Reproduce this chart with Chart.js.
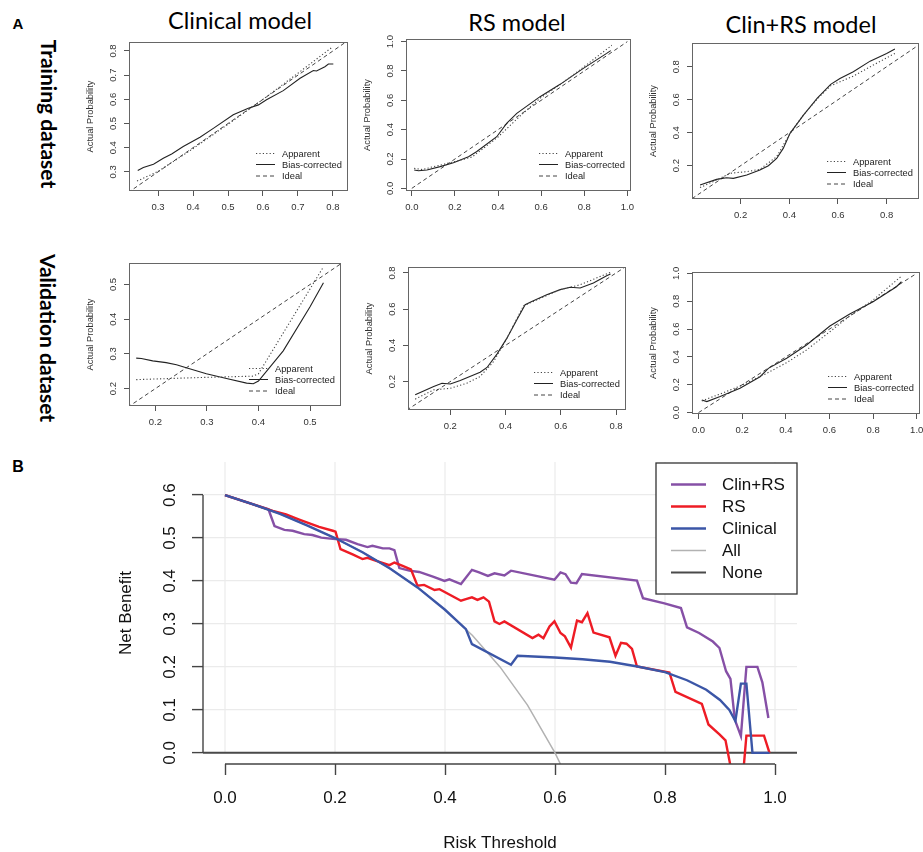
<!DOCTYPE html>
<html>
<head>
<meta charset="utf-8">
<script src="https://cdn.jsdelivr.net/npm/chart.js@4.4.1/dist/chart.umd.min.js"></script>
<style>
html, body { margin: 0; padding: 0; background: #fff; overflow: hidden; }
#page { position: relative; width: 923px; height: 852px; }
canvas { position: absolute; }
.lbl { position: absolute; white-space: nowrap; line-height: 1; transform: translate(-50%, -50%); color: #000; }
.col { font-family: Lato, sans-serif; font-size: 23.5px; }
.row { font-family: Lato, sans-serif; font-weight: bold; font-size: 21px; transform: translate(-50%, -50%) rotate(90deg); }
.tag { font-family: 'Liberation Sans', Arial, sans-serif; font-weight: bold; }
</style>
</head>
<body>
<div id="page">
  <div class="lbl tag" style="left:18px;top:23px;font-size:15px">A</div>
  <div class="lbl tag" style="left:18px;top:467px;font-size:16px">B</div>

  <div class="lbl col" style="left:240px;top:21px">Clinical model</div>
  <div class="lbl col" style="left:517px;top:23px">RS model</div>
  <div class="lbl col" style="left:801px;top:25px">Clin+RS model</div>

  <div class="lbl row" style="left:49px;top:114px">Training dataset</div>
  <div class="lbl row" style="left:48px;top:338px">Validation dataset</div>

  <canvas id="p1"></canvas>
  <canvas id="p2"></canvas>
  <canvas id="p3"></canvas>
  <canvas id="p4"></canvas>
  <canvas id="p5"></canvas>
  <canvas id="p6"></canvas>
  <canvas id="dca"></canvas>
</div>

<script>
// ---- calibration curves (panel A), points as [predicted, actual] ----
const idealLine = [[0, 0], [1, 1]];

const clinTrainApparent = [[0.24,0.262],[0.3,0.302],[0.4,0.396],[0.5,0.497],[0.6,0.600],[0.7,0.708],[0.8,0.818]];
const clinTrainBiasCorr = [[0.242,0.306],[0.258,0.318],[0.287,0.332],[0.315,0.356],[0.339,0.374],[0.372,0.405],[0.42,0.443],[0.458,0.480],[0.515,0.536],[0.558,0.563],[0.587,0.577],[0.61,0.598],[0.658,0.636],[0.706,0.687],[0.744,0.719],[0.753,0.717],[0.777,0.735],[0.787,0.746],[0.801,0.746]];

const rsTrainApparent = [[0.011,0.136],[0.05,0.128],[0.1,0.148],[0.2,0.182],[0.28,0.214],[0.4,0.35],[0.5,0.49],[0.6,0.62],[0.7,0.72],[0.8,0.83],[0.928,0.975]];
const rsTrainBiasCorr = [[0.011,0.125],[0.031,0.12],[0.07,0.125],[0.131,0.148],[0.193,0.175],[0.263,0.216],[0.30,0.25],[0.394,0.352],[0.44,0.443],[0.487,0.511],[0.595,0.625],[0.688,0.709],[0.796,0.818],[0.904,0.92],[0.923,0.939]];

const crTrainApparent = [[0.033,0.067],[0.1,0.113],[0.156,0.154],[0.225,0.164],[0.279,0.178],[0.348,0.255],[0.403,0.396],[0.458,0.507],[0.515,0.605],[0.57,0.685],[0.663,0.743],[0.745,0.81],[0.834,0.881]];
const crTrainBiasCorr = [[0.033,0.083],[0.101,0.117],[0.142,0.127],[0.17,0.123],[0.225,0.143],[0.279,0.174],[0.314,0.2],[0.348,0.244],[0.375,0.305],[0.403,0.396],[0.458,0.507],[0.515,0.61],[0.57,0.693],[0.608,0.729],[0.663,0.77],[0.732,0.834],[0.8,0.881],[0.834,0.907]];

const clinValApparent = [[0.163,0.226],[0.286,0.232],[0.39,0.236],[0.40,0.243],[0.526,0.551]];
const clinValBiasCorr = [[0.163,0.288],[0.173,0.287],[0.195,0.28],[0.221,0.275],[0.241,0.269],[0.26,0.26],[0.299,0.243],[0.338,0.229],[0.377,0.216],[0.39,0.214],[0.40,0.222],[0.448,0.309],[0.5,0.436],[0.526,0.505]];

const rsValApparent = [[0.073,0.103],[0.14,0.154],[0.2,0.163],[0.26,0.191],[0.308,0.228],[0.357,0.311],[0.405,0.44],[0.465,0.619],[0.501,0.643],[0.598,0.708],[0.67,0.735],[0.78,0.804]];
const rsValBiasCorr = [[0.073,0.127],[0.14,0.173],[0.17,0.191],[0.2,0.187],[0.236,0.206],[0.308,0.252],[0.333,0.278],[0.369,0.352],[0.405,0.44],[0.441,0.542],[0.471,0.625],[0.495,0.643],[0.549,0.68],[0.598,0.708],[0.634,0.721],[0.67,0.717],[0.718,0.745],[0.766,0.785],[0.78,0.794]];

const crValApparent = [[0.015,0.084],[0.099,0.134],[0.19,0.191],[0.312,0.282],[0.404,0.359],[0.495,0.45],[0.602,0.581],[0.693,0.694],[0.8,0.809],[0.93,0.98]];
const crValBiasCorr = [[0.015,0.091],[0.038,0.079],[0.099,0.115],[0.19,0.175],[0.282,0.258],[0.32,0.318],[0.404,0.39],[0.495,0.486],[0.602,0.622],[0.693,0.708],[0.8,0.797],[0.907,0.904],[0.93,0.94]];

// tick labels of the small panels
const ticksTenth36 = [0.3, 0.4, 0.5, 0.6, 0.7, 0.8];
const ticksFifth = [0, 0.2, 0.4, 0.6, 0.8, 1.0];
const ticksFifth28 = [0.2, 0.4, 0.6, 0.8];
const ticksTenth25 = [0.2, 0.3, 0.4, 0.5];
const calLegend = ['Apparent', 'Bias-corrected', 'Ideal'];

// ---- decision curves (panel B), points as [threshold, net benefit] ----
const dcaNames = ['Clin+RS', 'RS', 'Clinical', 'All', 'None'];
const dcaClinRS = [[0,0.6],[0.05,0.579],[0.079,0.567],[0.09,0.528],[0.108,0.519],[0.123,0.517],[0.144,0.509],[0.159,0.507],[0.175,0.501],[0.196,0.498],[0.22,0.496],[0.241,0.486],[0.259,0.479],[0.268,0.482],[0.287,0.476],[0.299,0.476],[0.308,0.472],[0.317,0.43],[0.335,0.424],[0.353,0.421],[0.378,0.41],[0.399,0.4],[0.408,0.404],[0.429,0.393],[0.449,0.426],[0.462,0.42],[0.478,0.412],[0.49,0.418],[0.508,0.413],[0.52,0.424],[0.599,0.403],[0.61,0.42],[0.619,0.416],[0.629,0.396],[0.639,0.395],[0.649,0.416],[0.749,0.401],[0.76,0.36],[0.799,0.348],[0.829,0.337],[0.84,0.292],[0.862,0.279],[0.887,0.259],[0.899,0.244],[0.911,0.19],[0.919,0.172],[0.927,0.077],[0.938,0.039],[0.948,0.2],[0.968,0.2],[0.977,0.164],[0.988,0.081]];
const dcaRS = [[0,0.6],[0.05,0.579],[0.087,0.563],[0.111,0.555],[0.135,0.543],[0.171,0.526],[0.196,0.517],[0.201,0.515],[0.21,0.474],[0.232,0.462],[0.25,0.451],[0.259,0.454],[0.275,0.447],[0.299,0.437],[0.308,0.443],[0.323,0.435],[0.338,0.427],[0.35,0.389],[0.362,0.391],[0.381,0.379],[0.39,0.381],[0.429,0.354],[0.438,0.358],[0.449,0.362],[0.459,0.356],[0.47,0.362],[0.48,0.352],[0.49,0.306],[0.499,0.300],[0.508,0.306],[0.559,0.267],[0.57,0.275],[0.579,0.267],[0.59,0.294],[0.599,0.306],[0.61,0.279],[0.618,0.271],[0.629,0.245],[0.64,0.308],[0.649,0.304],[0.659,0.325],[0.67,0.280],[0.699,0.269],[0.71,0.226],[0.72,0.256],[0.73,0.254],[0.74,0.242],[0.749,0.201],[0.808,0.187],[0.819,0.142],[0.867,0.114],[0.879,0.066],[0.899,0.043],[0.91,0.029],[0.922,-0.05],[0.942,-0.05],[0.948,0.04],[0.98,0.04],[0.99,0.0]];
const dcaClinical = [[0,0.6],[0.05,0.579],[0.1,0.556],[0.15,0.529],[0.2,0.5],[0.25,0.467],[0.3,0.429],[0.35,0.385],[0.4,0.333],[0.438,0.288],[0.449,0.253],[0.52,0.205],[0.532,0.226],[0.6,0.222],[0.65,0.218],[0.7,0.212],[0.75,0.201],[0.8,0.188],[0.84,0.169],[0.875,0.147],[0.9,0.123],[0.917,0.100],[0.928,0.074],[0.938,0.161],[0.948,0.161],[0.959,0.0],[0.99,0.0]];
const dcaAll = [[0,0.6],[0.05,0.579],[0.1,0.556],[0.15,0.529],[0.2,0.5],[0.25,0.467],[0.3,0.429],[0.35,0.385],[0.4,0.333],[0.45,0.273],[0.5,0.2],[0.55,0.111],[0.6,0.0],[0.62,-0.053]];
const dcaNone = [[-0.04,0],[1.04,0]];
const dcaXTicks = [0, 0.2, 0.4, 0.6, 0.8, 1.0];
const dcaYTicks = [0, 0.1, 0.2, 0.3, 0.4, 0.5, 0.6];

const FONT = "'Liberation Sans', Arial, sans-serif";
const pts = arr => arr.map(p => ({x: p[0], y: p[1]}));

function drawRotated(ctx, text, x, y, font, color) {
    ctx.save();
    ctx.translate(x, y);
    ctx.rotate(-Math.PI / 2);
    ctx.font = font;
    ctx.fillStyle = color;
    ctx.textAlign = 'center';
    ctx.textBaseline = 'middle';
    ctx.fillText(text, 0, 0);
    ctx.restore();
}

function fixedTicks(values) {
    return scale => { scale.ticks = values.map(v => ({value: v})); };
}

// one small calibration panel; box = plot frame in page pixels
function calPanel(id, box, xr, yr, xt, yt, apparent, biasCorr) {
    const padL = 50, padT = 6, padR = 3, padB = 30;
    const [L, T, R, B] = box;
    const cv = document.getElementById(id);
    cv.width = R - L + padL + padR;
    cv.height = B - T + padT + padB;
    cv.style.left = (L - padL) + 'px';
    cv.style.top = (T - padT) + 'px';

    const rFrame = {
        id: 'rFrame',
        afterDraw(chart) {
            const ctx = chart.ctx, a = chart.chartArea, ys = chart.scales.y;
            ctx.save();
            ctx.strokeStyle = '#666';
            ctx.lineWidth = 1;
            ctx.strokeRect(a.left + 0.5, a.top + 0.5, a.right - a.left - 1, a.bottom - a.top - 1);
            ys.ticks.forEach(t => {
                drawRotated(ctx, t.value.toFixed(1), a.left - 16, ys.getPixelForValue(t.value), '9.5px ' + FONT, '#333');
            });
            drawRotated(ctx, 'Actual Probability', a.left - 38.5, (a.top + a.bottom) / 2, '9.3px ' + FONT, '#333');
            // legend, bottom right
            const rows = [-37.5, -26.5, -15];
            chart.data.datasets.forEach((ds, i) => {
                const y = a.bottom + rows[i];
                ctx.setLineDash(ds.borderDash || []);
                ctx.strokeStyle = ds.borderColor;
                ctx.lineWidth = 1;
                ctx.beginPath();
                ctx.moveTo(a.right - 92, y);
                ctx.lineTo(a.right - 73, y);
                ctx.stroke();
                ctx.setLineDash([]);
                ctx.font = '9.3px ' + FONT;
                ctx.fillStyle = '#222';
                ctx.textAlign = 'left';
                ctx.textBaseline = 'middle';
                ctx.fillText(ds.label, a.right - 66, y + 0.5);
            });
            ctx.restore();
        }
    };

    new Chart(cv, {
        type: 'scatter',
        data: {
            datasets: [
                {label: calLegend[0], data: pts(apparent), borderColor: '#444', borderWidth: 1.1, borderDash: [1.2, 2.2]},
                {label: calLegend[1], data: pts(biasCorr), borderColor: '#222', borderWidth: 1.1},
                {label: calLegend[2], data: pts(idealLine), borderColor: '#444', borderWidth: 1, borderDash: [4, 3]}
            ]
        },
        options: {
            responsive: false,
            animation: false,
            showLine: true,
            elements: {point: {radius: 0, hoverRadius: 0}, line: {tension: 0, fill: false}},
            layout: {padding: {left: 0, top: padT, right: padR, bottom: 0}},
            plugins: {legend: {display: false}, tooltip: {enabled: false}},
            scales: {
                x: {
                    type: 'linear', min: xr[0], max: xr[1],
                    afterBuildTicks: fixedTicks(xt),
                    afterFit: s => { s.height = padB; s.paddingLeft = 0; s.paddingRight = 0; },
                    grid: {drawOnChartArea: false, drawTicks: true, tickLength: 5, tickColor: '#555'},
                    border: {display: false},
                    ticks: {autoSkip: false, maxRotation: 0, padding: 6, color: '#333',
                            font: {family: FONT, size: 9.5}, callback: v => v.toFixed(1)}
                },
                y: {
                    type: 'linear', min: yr[0], max: yr[1],
                    afterBuildTicks: fixedTicks(yt),
                    afterFit: s => { s.width = padL; s.paddingTop = 0; s.paddingBottom = 0; },
                    grid: {drawOnChartArea: false, drawTicks: true, tickLength: 5, tickColor: '#555'},
                    border: {display: false},
                    ticks: {display: false}
                }
            }
        },
        plugins: [rFrame]
    });
}

calPanel('p1', [129, 42, 348, 191], [0.217, 0.843], [0.221, 0.837], ticksTenth36, ticksTenth36, clinTrainApparent, clinTrainBiasCorr);
calPanel('p2', [406, 39, 631, 191], [-0.027, 1.017], [-0.018, 1.018], ticksFifth, ticksFifth, rsTrainApparent, rsTrainBiasCorr);
calPanel('p3', [692, 43, 919, 199], [0.0, 0.933], [-0.002, 0.944], ticksFifth28, ticksFifth28, crTrainApparent, crTrainBiasCorr);
calPanel('p4', [129, 263, 341, 406], [0.149, 0.56], [0.15, 0.562], ticksTenth25, ticksTenth25, clinValApparent, clinValBiasCorr);
calPanel('p5', [408, 267, 626, 410], [0.047, 0.836], [0.043, 0.833], ticksFifth28, ticksFifth28, rsValApparent, rsValBiasCorr);
calPanel('p6', [692, 272, 920, 414], [-0.03, 1.015], [-0.01, 1.01], ticksFifth, ticksFifth, crValApparent, crValBiasCorr);

// ---- decision curve ----
(function () {
    const cv = document.getElementById('dca');
    const left = 100, top = 440;
    cv.width = 720; cv.height = 412;
    cv.style.left = left + 'px';
    cv.style.top = top + 'px';

    const rAxes = {
        id: 'rAxes',
        beforeDatasetsDraw(chart) {
            // vertical grid lines stop at the zero line, as in the R plot
            const ctx = chart.ctx, a = chart.chartArea, xs = chart.scales.x, ys = chart.scales.y;
            const y0 = ys.getPixelForValue(0);
            ctx.save();
            ctx.strokeStyle = '#ebebeb';
            ctx.lineWidth = 1.2;
            ctx.beginPath();
            xs.ticks.forEach(t => {
                const x = xs.getPixelForValue(t.value);
                ctx.moveTo(x, a.top);
                ctx.lineTo(x, y0);
            });
            ctx.stroke();
            ctx.restore();
        },
        afterDatasetsDraw(chart) {
            const ctx = chart.ctx, a = chart.chartArea;
            // legend box, top right of the plot region
            const w = 141, h = 131, lx = a.right - w, ly = a.top + 1;
            ctx.save();
            ctx.fillStyle = '#fff';
            ctx.fillRect(lx, ly, w, h);
            ctx.strokeStyle = '#333';
            ctx.lineWidth = 1.3;
            ctx.strokeRect(lx, ly, w, h);
            dcaNames.forEach((name, i) => {
                const ds = chart.data.datasets.find(d => d.label === name);
                const y = ly + 21.5 + i * 22;
                ctx.strokeStyle = ds.borderColor;
                ctx.lineWidth = ds.borderWidth;
                ctx.beginPath();
                ctx.moveTo(lx + 15, y);
                ctx.lineTo(lx + 50, y);
                ctx.stroke();
                ctx.font = '17px ' + FONT;
                ctx.fillStyle = '#111';
                ctx.textAlign = 'left';
                ctx.textBaseline = 'middle';
                ctx.fillText(name, lx + 66, y + 1);
            });
            ctx.restore();
        },
        afterDraw(chart) {
            const ctx = chart.ctx, a = chart.chartArea, xs = chart.scales.x, ys = chart.scales.y;
            ctx.save();
            ctx.strokeStyle = '#444';
            ctx.lineWidth = 1.4;
            ctx.beginPath();
            ctx.moveTo(a.left, ys.getPixelForValue(dcaYTicks[0]));
            ctx.lineTo(a.left, ys.getPixelForValue(dcaYTicks[dcaYTicks.length - 1]));
            ctx.moveTo(xs.getPixelForValue(dcaXTicks[0]), a.bottom);
            ctx.lineTo(xs.getPixelForValue(dcaXTicks[dcaXTicks.length - 1]), a.bottom);
            ctx.stroke();
            ys.ticks.forEach(t => {
                drawRotated(ctx, t.value.toFixed(1), a.left - 32.5, ys.getPixelForValue(t.value), '17px ' + FONT, '#111');
            });
            drawRotated(ctx, 'Net Benefit', a.left - 76.5, (a.top + a.bottom) / 2, '17px ' + FONT, '#111');
            ctx.font = '17px ' + FONT;
            ctx.fillStyle = '#111';
            ctx.textAlign = 'center';
            ctx.textBaseline = 'middle';
            ctx.fillText('Risk Threshold', (a.left + a.right) / 2, a.bottom + 79);
            ctx.restore();
        }
    };

    new Chart(cv, {
        type: 'scatter',
        data: {
            datasets: [
                {label: 'Clinical', data: pts(dcaClinical), borderColor: '#3b56a7', borderWidth: 2.4},
                {label: 'RS', data: pts(dcaRS), borderColor: '#ee1c25', borderWidth: 2.4},
                {label: 'Clin+RS', data: pts(dcaClinRS), borderColor: '#8650a6', borderWidth: 2.4},
                {label: 'All', data: pts(dcaAll), borderColor: '#b2b2b2', borderWidth: 1.5},
                {label: 'None', data: pts(dcaNone), borderColor: '#4a4a4a', borderWidth: 2}
            ]
        },
        options: {
            responsive: false,
            animation: false,
            showLine: true,
            elements: {point: {radius: 0, hoverRadius: 0}, line: {tension: 0, fill: false}},
            layout: {padding: {left: 0, top: 22, right: 23, bottom: 0}},
            plugins: {legend: {display: false}, tooltip: {enabled: false}},
            scales: {
                x: {
                    type: 'linear', min: -0.04, max: 1.04,
                    afterBuildTicks: fixedTicks(dcaXTicks),
                    afterFit: s => { s.height = 88; s.paddingLeft = 0; s.paddingRight = 0; },
                    grid: {drawOnChartArea: false, drawTicks: true, tickLength: 11, tickColor: '#444', tickWidth: 1.4},
                    border: {display: false},
                    ticks: {autoSkip: false, maxRotation: 0, padding: 13, color: '#111',
                            font: {family: FONT, size: 17}, callback: v => v.toFixed(1)}
                },
                y: {
                    type: 'linear', min: -0.026, max: 0.677,
                    afterBuildTicks: fixedTicks(dcaYTicks),
                    afterFit: s => { s.width = 103; s.paddingTop = 0; s.paddingBottom = 0; },
                    grid: {color: '#ebebeb', lineWidth: 1.2, drawTicks: true, tickLength: 11, tickColor: '#444', tickWidth: 1.4},
                    border: {display: false},
                    ticks: {display: false}
                }
            }
        },
        plugins: [rAxes]
    });
})();
</script>
</body>
</html>
